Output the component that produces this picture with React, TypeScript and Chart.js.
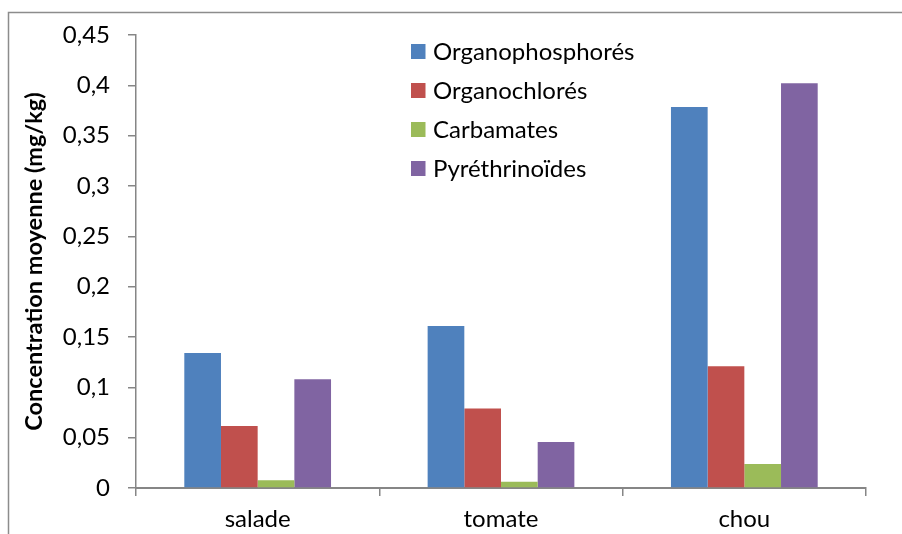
import React, { useEffect, useRef } from "react";
import { Chart, registerables } from "chart.js";

Chart.register(...registerables);

const categories = ["salade", "tomate", "chou"];
const seriesNames = ["Organophosphorés", "Organochlorés", "Carbamates", "Pyréthrinoïdes"];
const organophosphores = [0.134, 0.161, 0.3785];
const organochlores = [0.0616, 0.079, 0.121];
const carbamates = [0.0076, 0.0063, 0.0238];
const pyrethrinoides = [0.108, 0.0457, 0.402];
const seriesColors = ["#4F81BD", "#C0504D", "#9BBB59", "#8064A2"];
const yMin = 0;
const yMax = 0.45;
const yStep = 0.05;
const yTitle = "Concentration moyenne (mg/kg)";

const FONT = "Lato";
const FS = 24;
const AXIS = "#868686";

const framePlugin = {
  id: "frame",
  beforeDraw(chart: any) {
    const ctx = chart.ctx;
    ctx.save();
    ctx.strokeStyle = "#8c8c8c";
    ctx.lineWidth = 1.5;
    ctx.beginPath();
    ctx.moveTo(8.5, chart.height);
    ctx.lineTo(8.5, 12.5);
    ctx.lineTo(chart.width, 12.5);
    ctx.stroke();
    ctx.restore();
  },
};

const legendPlugin = {
  id: "insideLegend",
  afterDraw(chart: any) {
    const ctx = chart.ctx;
    ctx.save();
    ctx.font = `${FS}px ${FONT}`;
    ctx.textBaseline = "middle";
    ctx.textAlign = "left";
    chart.data.datasets.forEach((ds: any, i: number) => {
      const cy = 51 + i * 39;
      ctx.fillStyle = ds.backgroundColor;
      ctx.fillRect(411, cy - 7, 14.5, 15);
      ctx.fillStyle = "#000";
      ctx.fillText(ds.label, 433, cy + 1);
    });
    ctx.restore();
  },
};

export default function App() {
  const ref = useRef<HTMLCanvasElement>(null);
  useEffect(() => {
    if (!ref.current) return;
    const values = [organophosphores, organochlores, carbamates, pyrethrinoides];
    const chart = new Chart(ref.current, {
      type: "bar",
      data: {
        labels: categories,
        datasets: seriesNames.map((name, i) => ({
          label: name,
          data: values[i],
          backgroundColor: seriesColors[i],
          borderWidth: 0,
          categoryPercentage: 0.603,
          barPercentage: 1,
        })),
      },
      options: {
        animation: false,
        responsive: false,
        devicePixelRatio: 1,
        layout: { padding: { left: 0, right: 36, top: 35, bottom: 0 } },
        plugins: { legend: { display: false }, tooltip: { enabled: false } },
        scales: {
          x: {
            afterFit: (s: any) => { s.height = 46; },
            grid: {
              offset: true,
              drawOnChartArea: false,
              drawTicks: true,
              tickLength: 8,
              color: AXIS,
              lineWidth: 1.5,
            },
            border: { color: AXIS, width: 2 },
            ticks: { color: "#000", font: { family: FONT, size: FS }, padding: 9 },
          },
          y: {
            min: yMin,
            max: yMax,
            afterFit: (s: any) => { s.width = 136; },
            grid: {
              drawOnChartArea: false,
              drawTicks: true,
              tickLength: 8,
              color: AXIS,
              lineWidth: 1.5,
            },
            border: { color: AXIS, width: 1.5 },
            ticks: {
              stepSize: yStep,
              color: "#000",
              font: { family: FONT, size: FS },
              padding: 18,
              callback: (v: any) => String(Number(Number(v).toFixed(2))).replace(".", ","),
            },
            title: {
              display: true,
              text: yTitle,
              color: "#000",
              font: { family: FONT, size: 23.5, weight: "bold" },
              padding: { top: 20, bottom: 0 },
            },
          },
        },
      },
      plugins: [framePlugin, legendPlugin],
    });
    return () => chart.destroy();
  }, []);
  return (
    <div style={{ position: "absolute", left: 0, top: 0, width: 902, height: 534, background: "#fff" }}>
      <canvas ref={ref} width={902} height={534} style={{ display: "block", width: 902, height: 534 }} />
    </div>
  );
}
